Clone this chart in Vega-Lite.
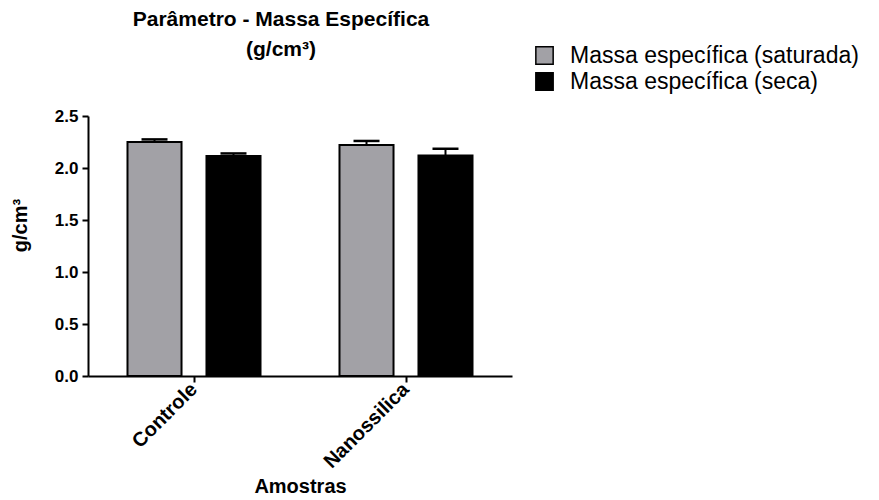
{
  "$schema": "https://vega.github.io/schema/vega-lite/v6.json",
  "width": 424,
  "height": 260,
  "autosize": {"type": "none"},
  "padding": {"left": 88, "top": 116, "right": 367, "bottom": 124},
  "background": "white",
  "title": {
    "text": ["Parâmetro - Massa Específica", "(g/cm³)"],
    "font": "Liberation Sans",
    "fontSize": 21,
    "fontWeight": "bold",
    "color": "black",
    "anchor": "middle",
    "dx": -19,
    "offset": -16,
    "lineHeight": 30
  },
  "config": {
    "view": {"stroke": null},
    "font": "Liberation Sans",
    "axis": {
      "domainColor": "black",
      "domainWidth": 2,
      "tickColor": "black",
      "tickWidth": 2,
      "tickSize": 6,
      "grid": false,
      "labelColor": "black",
      "labelFont": "Liberation Sans",
      "labelFontWeight": "bold",
      "labelFontSize": 17,
      "titleFont": "Liberation Sans",
      "titleFontWeight": "bold",
      "titleFontSize": 20,
      "titleColor": "black"
    }
  },
  "data": {
    "values": [
      {"amostra": "Controle", "serie": "Massa específica (saturada)", "valor": 2.25, "superior": 2.275},
      {"amostra": "Controle", "serie": "Massa específica (seca)", "valor": 2.115, "superior": 2.14},
      {"amostra": "Nanossilica", "serie": "Massa específica (saturada)", "valor": 2.22, "superior": 2.26},
      {"amostra": "Nanossilica", "serie": "Massa específica (seca)", "valor": 2.12, "superior": 2.185}
    ]
  },
  "encoding": {
    "x": {
      "field": "amostra",
      "type": "nominal",
      "sort": ["Controle", "Nanossilica"],
      "scale": {"paddingInner": 0, "paddingOuter": 0},
      "axis": {"title": "Amostras", "labelAngle": -45, "labelAlign": "right", "labelBaseline": "middle", "labelPadding": 4, "titleY": 116, "titleBaseline": "alphabetic", "labelFontSize": 20}
    },
    "xOffset": {
      "field": "serie",
      "type": "nominal",
      "sort": ["Massa específica (saturada)", "Massa específica (seca)"],
      "scale": {"paddingInner": 0.316, "paddingOuter": 0.5}
    }
  },
  "layer": [
    {
      "mark": {"type": "bar", "stroke": "black", "strokeWidth": 2},
      "encoding": {
        "y": {
          "field": "valor",
          "type": "quantitative",
          "scale": {"domain": [0, 2.5], "nice": false},
          "axis": {"title": "g/cm³", "values": [0, 0.5, 1, 1.5, 2, 2.5], "format": ".1f", "titlePadding": 12, "labelPadding": 4, "titleY": 109, "titleX": -58}
        },
        "color": {
          "field": "serie",
          "type": "nominal",
          "sort": ["Massa específica (saturada)", "Massa específica (seca)"],
          "scale": {"range": ["#a2a1a6", "#000000"]},
          "legend": {
            "title": null,
            "orient": "none",
            "legendX": 445,
            "legendY": -72,
            "symbolType": "square",
            "symbolSize": 300,
            "symbolStrokeColor": "black",
            "symbolStrokeWidth": 1.5,
            "symbolOpacity": 1,
            "labelFont": "Liberation Sans",
            "labelFontSize": 23,
            "labelColor": "black",
            "rowPadding": 1,
            "labelOffset": 14,
            "labelLimit": 400
          }
        }
      }
    },
    {
      "mark": {"type": "rule", "color": "black", "strokeWidth": 2},
      "encoding": {
        "y": {"field": "valor", "type": "quantitative"},
        "y2": {"field": "superior"}
      }
    },
    {
      "mark": {"type": "tick", "color": "black", "thickness": 2.5, "size": 26, "opacity": 1},
      "encoding": {
        "y": {"field": "superior", "type": "quantitative"}
      }
    }
  ]
}
